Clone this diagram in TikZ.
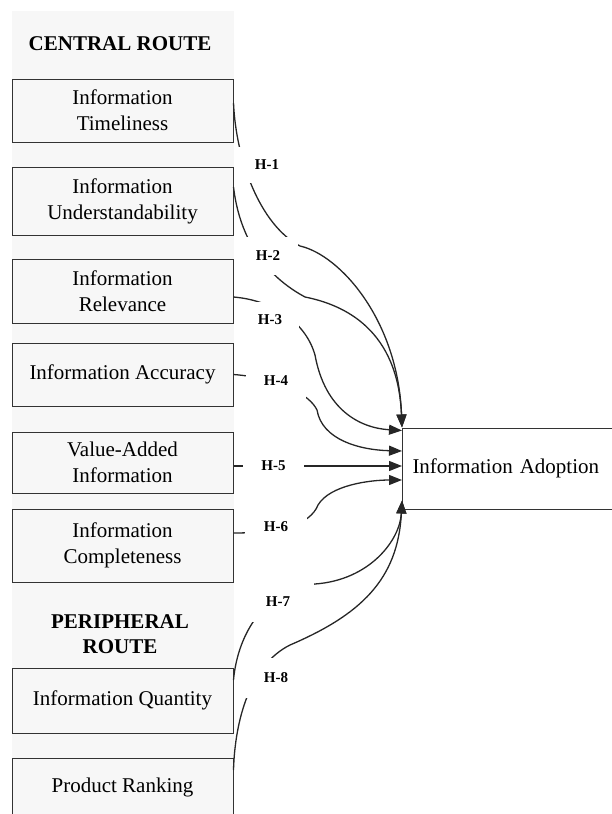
\documentclass[tikz,border=0pt]{standalone}
\usepackage{fontspec}
\setmainfont{Liberation Serif}
\colorlet{panelgray}{black!3}
\colorlet{framegray}{black!80}
\usetikzlibrary{arrows.meta}

\begin{document}
\begin{tikzpicture}[
    x=1pt, y=-1pt,
    factor/.style = {rectangle, draw=framegray, line width=1pt, fill=panelgray,
      minimum width=221pt, align=center, inner sep=2pt,
      font=\fontsize{21}{26}\selectfont},
    route/.style = {align=center, font=\fontsize{21}{25}\selectfont\bfseries},
    outcome/.style = {rectangle, draw=framegray, line width=1pt, fill=white,
      minimum height=81pt, text width=230pt, inner xsep=10pt, align=left,
      font=\fontsize{21}{26}\selectfont},
    hyp/.style = {fill=white, inner sep=0pt, minimum width=60pt, minimum height=36pt,
      font=\fontsize{15}{18}\selectfont\bfseries},
    link/.style = {line width=1.3pt, black!85, -{Triangle[length=13pt,width=10pt]}},
  ]
\useasboundingbox (0,0) rectangle (612,814);
\clip (0,0) rectangle (612,814);
\fill[panelgray] (12,11) rectangle (234,820);
\node[route] (central) at (120,44) {CENTRAL ROUTE};
\node[route] (peripheral) at (120,634.5) {PERIPHERAL\\ROUTE};

\node[factor, minimum height=63pt] (tim) at (122.5,110.5) {Information\\Timeliness};
\node[factor, minimum height=68pt] (und) at (122.5,201) {Information\\Understandability};
\node[factor, minimum height=64pt] (rel) at (122.5,291) {Information\\Relevance};
\node[factor, minimum height=63pt] (acc) at (122.5,374.5) {Information Accuracy};
\node[factor, minimum height=61pt] (val) at (122.5,462.5) {Value-Added\\Information};
\node[factor, minimum height=73pt] (com) at (122.5,545.5) {Information\\Completeness};
\node[factor, minimum height=65pt] (qua) at (122.5,700.5) {Information Quantity};
\node[factor, minimum height=59pt] (rank) at (122.5,787.5) {Product Ranking};

\node[outcome, anchor=west] (adopt) at (402,468.5) {Information Adoption};

\draw[link] ([yshift=7.5pt]tim.east) .. controls (236,160) and (260,225) .. (300,246)
  .. controls (340,255) and (398,320) .. (adopt.north west);
\draw[link] ([yshift=14pt]und.east) .. controls (238,225) and (255,270) .. (305,297)
  .. controls (345,305) and (398,330) .. (adopt.north west);
\draw[link] ([yshift=-6pt]rel.east) .. controls (270,300) and (305,320) .. (315,355)
  .. controls (325,410) and (360,428) .. ([yshift=-3pt]adopt.north west);
\draw[link] (acc.east) .. controls (280,378) and (310,395) .. (317,410)
  .. controls (322,440) and (360,450) .. ([yshift=17.5pt]adopt.west);
\draw[link] ([yshift=-3.5pt]val.east) -- ([yshift=2.5pt]adopt.west);
\draw[link] ([yshift=12.5pt]com.east) .. controls (280,533) and (310,525) .. (318,505)
  .. controls (330,485) and (370,480) .. ([yshift=-11.5pt]adopt.west);
\draw[link] ([yshift=20.5pt]qua.east) .. controls (237,640) and (260,590) .. (315,584)
  .. controls (370,580) and (400,540) .. ([yshift=9pt]adopt.south west);
\draw[link] ([yshift=17.5pt]rank.east) .. controls (235,720) and (250,665) .. (290,645)
  .. controls (360,615) and (398,580) .. ([yshift=9pt]adopt.south west);

\node[hyp, minimum width=58pt] (h1) at (267,165) {H-1};
\node[hyp, minimum height=38pt] (h2) at (268,256) {H-2};
\node[hyp, minimum width=58pt] (h3) at (270,320) {H-3};
\node[hyp] (h4) at (276,381) {H-4};
\node[hyp, minimum width=61pt, minimum height=34pt] (h5) at (273.5,466) {H-5};
\node[hyp, minimum width=62pt] (h6) at (276,527) {H-6};
\node[hyp, minimum width=72pt, minimum height=40pt] (h7) at (278,602) {H-7};
\node[hyp, minimum height=40pt] (h8) at (276,678) {H-8};
\end{tikzpicture}
\end{document}
